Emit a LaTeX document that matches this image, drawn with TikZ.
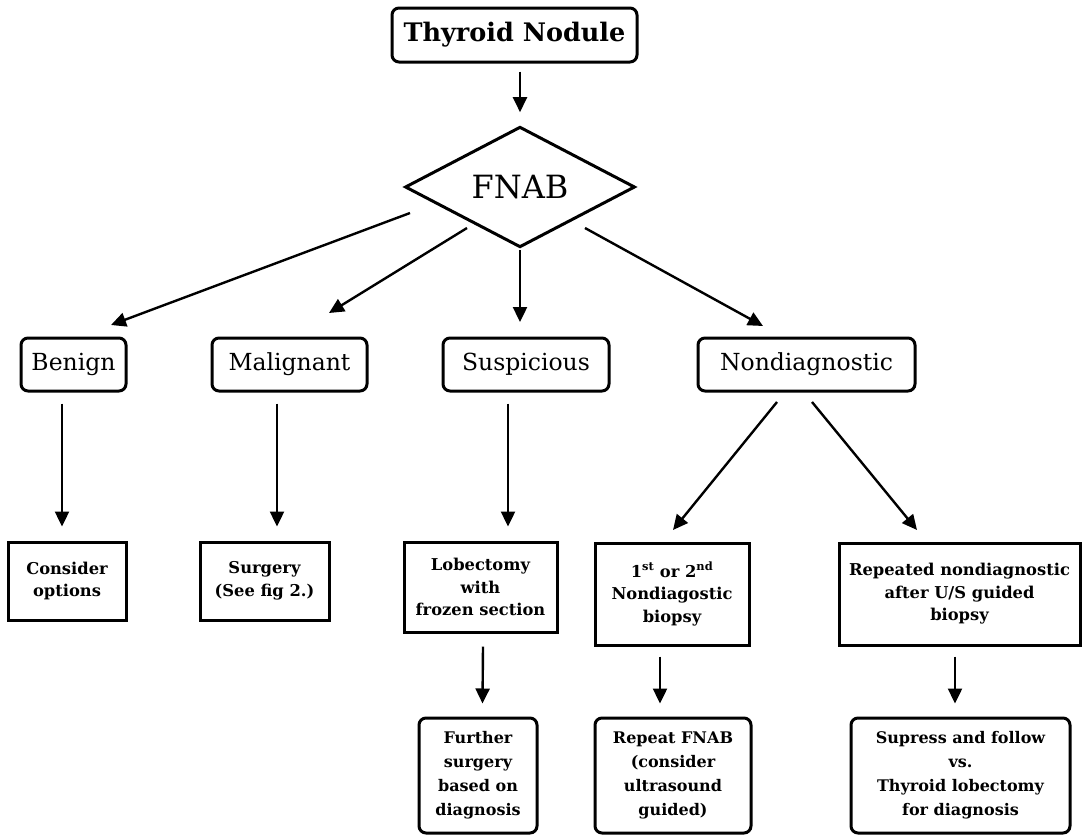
\documentclass[tikz,border=0pt]{standalone}
\usepackage{fontspec}
\setmainfont{DejaVu Serif}
\usetikzlibrary{arrows.meta,shapes.geometric}
\tikzset{
  rbox/.style={draw, line width=3pt, rounded corners=7pt, inner sep=2pt, align=center},
  sbox/.style={draw, line width=3pt, inner sep=2pt, align=center},
  dia/.style={draw, diamond, line width=3pt, inner sep=0pt, minimum width=230pt, minimum height=106pt},
  arr/.style={line width=2.4pt, -{Triangle[length=15pt,width=14pt]}},
  big/.style={font=\fontsize{25.5}{29}\selectfont\bfseries},
  mid/.style={font=\fontsize{23.5}{27}\selectfont},
  small/.style={font=\fontsize{16.3}{22.5}\selectfont\bfseries},
  tiny/.style={font=\fontsize{16}{24}\selectfont\bfseries}
}
\begin{document}
\begin{tikzpicture}[x=1pt,y=-1pt]
\useasboundingbox (0,0) rectangle (1089,835);
% top
\node[rbox, big, minimum width=245pt, minimum height=54pt] (tn) at (514.5,35) {Thyroid Nodule};
\node[dia, font=\fontsize{32}{36}\selectfont] (fnab) at (520,187) {FNAB};
% row 2
\node[rbox, mid, minimum width=105pt, minimum height=53pt] (ben) at (73.5,364.5) {Benign};
\node[rbox, mid, minimum width=155pt, minimum height=53pt] (mal) at (289.5,364.5) {Malignant};
\node[rbox, mid, minimum width=166pt, minimum height=53pt] (sus) at (526,364.5) {Suspicious};
\node[rbox, mid, minimum width=217pt, minimum height=53pt] (nond) at (806.5,364.5) {Nondiagnostic};
% row 3
\node[sbox, small, minimum width=118pt, minimum height=78pt] (cons) at (67,581) {Consider\\options};
\node[sbox, small, minimum width=129pt, minimum height=78pt] (surg) at (264.5,581) {Surgery\\(See fig 2.)};
\node[sbox, small, minimum width=153pt, minimum height=90pt] (lob) at (480.5,587) {Lobectomy\\with\\frozen section};
\node[sbox, small, minimum width=154pt, minimum height=102pt] (first) at (672,594) {1\textsuperscript{st} or 2\textsuperscript{nd}\\Nondiagostic\\biopsy};
\node[sbox, small, minimum width=241pt, minimum height=102pt] (rep) at (959.5,594) {Repeated nondiagnostic\\after U/S guided\\biopsy};
% row 4
\node[rbox, tiny, minimum width=118pt, minimum height=115pt] (fur) at (478,775.5) {Further\\surgery\\based on\\diagnosis};
\node[rbox, tiny, minimum width=156pt, minimum height=115pt] (rfnab) at (673,775.5) {Repeat FNAB\\(consider\\ultrasound\\guided)};
\node[rbox, tiny, minimum width=219pt, minimum height=115pt] (sup) at (960.5,775.5) {Supress and follow\\vs.\\Thyroid lobectomy\\for diagnosis};
% connector end points
\coordinate (f1) at (410,213); \coordinate (b1) at (111,325);
\coordinate (f2) at (467,228); \coordinate (m1) at (329,313);
\coordinate (f3) at (520,250); \coordinate (s1) at (520,322);
\coordinate (f4) at (585,228); \coordinate (n1) at (763,326);
\coordinate (nd1) at (777,402); \coordinate (fi1) at (673,530);
\coordinate (nd2) at (812,402); \coordinate (re1) at (917,530);
% connectors
\draw[arr] ([xshift=5.5pt,yshift=-8pt]tn.south) -- ([yshift=13pt]fnab.north);
\draw[arr] (f1) -- (b1);
\draw[arr] (f2) -- (m1);
\draw[arr] (f3) -- (s1);
\draw[arr] (f4) -- (n1);
\draw[arr] ([xshift=-11.5pt,yshift=-11pt]ben.south) -- ([xshift=-5pt,yshift=14pt]cons.north);
\draw[arr] ([xshift=-12.5pt,yshift=-11pt]mal.south) -- ([xshift=12.5pt,yshift=14pt]surg.north);
\draw[arr] ([xshift=-18pt,yshift=-11pt]sus.south) -- ([xshift=27.5pt,yshift=14pt]lob.north);
\draw[arr] (nd1) -- (fi1);
\draw[arr] (nd2) -- (re1);
\draw[arr] ([xshift=2.5pt,yshift=-13pt]lob.south) -- ([xshift=4.5pt,yshift=13pt]fur.north);
\draw[arr] ([xshift=-12pt,yshift=-10pt]first.south) -- ([xshift=-13pt,yshift=13pt]rfnab.north);
\draw[arr] ([xshift=-4.5pt,yshift=-10pt]rep.south) -- ([xshift=-5.5pt,yshift=13pt]sup.north);
\end{tikzpicture}
\end{document}
